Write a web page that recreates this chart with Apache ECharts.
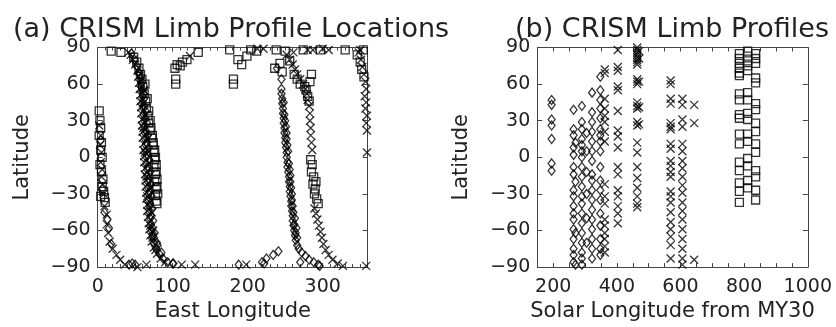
<!DOCTYPE html>
<html><head><meta charset="utf-8">
<script src="https://cdn.jsdelivr.net/npm/echarts@6/dist/echarts.min.js"></script>
<style>html,body{margin:0;padding:0;background:#fff}#c{width:836px;height:327px}</style>
</head><body><div id="c"></div>
<script>
// ---------- DATA ----------
var titleA = '(a) CRISM Limb Profile Locations';
var titleB = '(b) CRISM Limb Profiles';
var xNameA = 'East Longitude';
var xNameB = 'Solar Longitude from MY30';
var yName = 'Latitude';
var xTicksA = [0, 100, 200, 300];
var xTicksB = [200, 400, 600, 800, 1000];
var yTicks = [-90, -60, -30, 0, 30, 60, 90];

// Panel (a): [east longitude, latitude]
var aSquares = [
 [18,87],[31,86],[176,88],[204,88],[238,88],[250,87],[274,88],[297,88],[330,88],[354,88],
 [103,73],[106,76],[110,75],[113,78],[119,80],[134,86],[104,64],[104,60],
 [181,64],[181,60],[187,80],[192,76],[199,83],[212,87],
 [2,38],[3,30],[4,24],[2,18],[5,12],[4,6],[6,0],[3,-6],[5,-12],[7,-18],[6,-24],[8,-28],[9,-33],[10,-37],[4,-32],
 [48,82],[52,78],[55,73],[57,68],[59,64],[60,58],[62,52],[64,46],[65,40],[67,34],[68,28],[70,22],[72,16],[74,10],[75,4],[76,-2],[75,-8],[77,-14],[76,-20],[78,-26],[77,-31],[78,-36],
 [63,60],[66,48],[68,38],[70,30],[71,24],[73,18],[74,12],[76,6],[77,0],[78,-6],[78,-12],[79,-18],[79,-24],[80,-30],[79,-38],
 [236,73],[243,77],[246,70],[256,79],[262,68],[266,64],[270,60],[276,58],[278,55],[283,62],[285,68],[280,50],[282,46],
 [284,-2],[286,-6],[285,-12],[288,-16],[287,-22],[290,-26],[289,-30],[292,-34],[294,-38],[291,-20],
 [346,84],[350,78],[352,72],[355,66]
];
var aCrosses = [
 [213,89],[221,89],[261,86],[280,88],[287,88],[300,89],[308,88],[350,88],[123,83],
 [2,26],[4,18],[3,10],[5,4],[4,-4],[6,-10],[5,-16],[7,-22],[8,-30],[9,-40],[12,-47],[12,-55],[14,-62],[16,-69],[20,-75],[25,-80],[30,-84],[36,-88],[53,-90],[65,-88],
 [41,86],[44,84],[47,80],[50,76],[53,71],[54,66],[55,61],[56,56],[57,51],[57,46],[58,41],[58,36],[59,31],[59,26],[60,21],[60,16],[61,11],[61,6],[62,1],[62,-4],[63,-9],[63,-14],[64,-19],[64,-24],[65,-29],[65,-34],[66,-39],[66,-44],[67,-49],[68,-54],[69,-59],[70,-64],[72,-69],[75,-74],[79,-79],[84,-83],[90,-86],
 [62,55],[64,35],[66,15],[68,-5],[70,-25],[72,-45],[74,-60],
 [58,64],[60,44],[61,24],[63,4],[65,-16],[66,-32],[68,-40],[70,-56],[73,-66],[77,-76],
 [112,-88],[130,-88],[198,-88],
 [252,84],[256,80],[260,76],[263,72],[266,68],[270,64],[274,60],[277,56],[279,52],[280,47],[282,42],[283,36],[283,30],[284,24],[284,18],[285,12],[286,6],
 [289,-42],[291,-46],[293,-51],[295,-56],[297,-61],[299,-66],[301,-71],[304,-76],[308,-80],[313,-84],[320,-87],[327,-89],
 [348,86],[351,80],[353,74],[355,68],[357,62],[358,56],[356,50],[358,45],[357,40],[359,34],[358,28],[359,22],[359,4],[358,-89]
];
var aDiamonds = [
 [45,85],[49,80],[52,75],[55,70],[57,65],[58,60],[59,55],[60,50],[60,45],[61,40],[61,35],[62,30],[62,25],[63,20],[63,15],[64,10],[64,5],[65,0],[65,-5],[66,-10],[66,-15],[67,-20],[67,-25],[68,-30],[68,-35],[69,-40],[69,-45],[70,-50],[71,-55],[72,-60],[73,-65],[75,-70],[78,-75],[82,-79],[87,-83],[93,-86],[100,-87],
 [59,62],[61,52],[62,42],[63,32],[64,22],[65,12],[66,2],[67,-8],[68,-18],[69,-28],[70,-38],[71,-48],[73,-58],[75,-66],[80,-72],
 [56,68],[58,58],[62,48],[64,38],[66,28],[67,18],[68,8],[69,-2],[70,-12],[71,-22],[72,-32],[73,-42],[74,-52],[76,-62],[79,-70],[85,-78],
 [4,14],[6,-26],[9,-45],[13,-51],[15,-58],[18,-71],
 [42,-88],[46,-87],[50,-88],[101,-87],[188,-88],[219,-86],[222,-87],[225,-83],[234,-80],[241,-77],
 [239,73],[245,64],
 [245,56],[245,52],[246,48],[246,44],[247,40],[247,36],[248,32],[248,28],[249,24],[249,20],[250,16],[250,12],[251,8],[252,4],[252,0],[253,-4],[253,-8],[254,-12],[255,-16],[255,-20],[256,-24],[256,-28],[257,-32],[258,-36],[258,-40],[259,-44],[260,-48],[260,-52],[261,-56],[262,-60],[263,-64],[264,-68],[266,-72],[268,-75],[272,-78],[277,-81],[282,-84],[288,-86],[294,-88],
 [248,45],[249,35],[251,25],[252,15],[254,5],[255,-5],[257,-15],[258,-25],[259,-35],[261,-45],[262,-55],[264,-62],[266,-66],
 [250,30],[252,20],[253,10],[256,-10],[257,-20],[259,-30],[260,-40],[263,-50],[265,-58],
 [270,-86],[296,-89]
];

// Panel (b): [solar longitude from MY30, latitude]
var bDiamonds = [
 [195,47],[195,43],[195,31],[195,26],[195,15],[195,-5],[195,-11],
 [264,39],[264,23],[264,18],[264,8],[264,2],[264,-8],[264,-14],[264,-27],[264,-32],[264,-40],[264,-46],[264,-51],[264,-59],[264,-67],[264,-75],[264,-80],[264,-86],
 [270,12],[270,-20],[270,-62],[270,-88],
 [290,42],[290,29],[290,23],[290,15],[290,10],[290,5],[290,0],[290,-8],[290,-16],[290,-24],[290,-32],[290,-38],[290,-46],[290,-54],[290,-62],[290,-70],[290,-78],[290,-83],[290,-88],
 [305,20],[305,5],[305,-12],[305,-30],[305,-50],[305,-70],
 [322,53],[322,37],[322,29],[322,21],[322,13],[322,5],[322,-3],[322,-14],[322,-19],[322,-27],[322,-35],[322,-43],[322,-51],[322,-59],[322,-67],[322,-75],[322,-83],
 [348,66],[348,55],[348,47],[348,40],[348,32],[348,23],[348,18],[348,13],[348,5],[348,-8],[348,-19],[348,-27],[348,-35],[348,-46],[348,-56],[348,-67],[348,-75],[348,-80]
];
var bCrosses = [
 [362,72],[362,69],[362,48],[362,40],[362,34],[362,29],[362,21],[362,13],[362,-22],[362,-32],[362,-38],[362,-51],[362,-56],[362,-62],[362,-67],[362,-73],[362,-78],
 [403,88],[403,74],[403,71],[403,58],[403,55],[403,38],[403,22],[403,17],[403,8],[403,-8],[403,-14],[403,-27],[403,-32],[403,-40],[403,-46],[403,-54],
 [464,90],[464,88],[464,86],[464,84],[464,82],[464,80],[464,78],[464,76],[464,64],[464,62],[464,60],[464,45],[464,42],[464,40],[464,29],[464,26],[464,12],[464,4],[464,-8],[464,-17],[464,-25],[464,-32],[464,-38],[464,-41],
 [470,87],[470,81],[470,62],[470,41],[470,27],
 [569,63],[569,60],[569,48],[569,44],[569,28],[569,25],[569,23],[569,11],[569,7],[569,-3],[569,-7],[569,-12],[569,-16],[569,-28],[569,-32],[569,-37],[569,-45],[569,-53],[569,-59],[569,-65],[569,-72],[569,-83],
 [606,48],[606,43],[606,31],[606,25],[606,11],[606,5],[606,-3],[606,-9],[606,-16],[606,-23],[606,-29],[606,-37],[606,-44],[606,-51],[606,-59],[606,-67],[606,-75],[606,-83],[606,-88],
 [643,43],[643,28],[643,-84]
];
var bSquares = [
 [785,85],[785,81],[785,77],[785,73],[785,69],[785,67],[785,52],[785,47],[785,35],[785,32],[785,19],[785,11],[785,-4],[785,-11],[785,-21],[785,-28],[785,-37],
 [811,87],[811,83],[811,79],[811,75],[811,71],[811,53],[811,47],[811,36],[811,31],[811,19],[811,13],[811,-1],[811,-7],[811,-19],[811,-25],
 [836,85],[836,81],[836,77],[836,65],[836,61],[836,44],[836,39],[836,28],[836,21],[836,11],[836,4],[836,-11],[836,-16],[836,-27],[836,-35]
];

// ---------- CHART ----------
var INK = '#222';
var AX = '#444';
var FONT = 'DejaVu Sans';
var chart = echarts.init(document.getElementById('c'), null, {renderer: 'canvas'});
function minus(v){ return String(v).replace('-', '\u2212'); }
function xAx(grid, min, max, interval, pos, labels, name, minorSplit, labelFn){
  return {
    gridIndex: grid, type: 'value', min: min, max: max, interval: interval, position: pos,
    axisLine: {show: true, onZero: false, lineStyle: {color: AX, width: 1}},
    axisTick: {show: true, inside: true, length: 4, lineStyle: {color: AX}},
    minorTick: {show: minorSplit > 0, splitNumber: minorSplit || 5, length: 3, lineStyle: {color: AX}},
    splitLine: {show: false},
    axisLabel: {show: labels, showMaxLabel: labelFn ? true : false, showMinLabel: true, interval: 0, margin: 10,
      color: INK, fontFamily: FONT, fontSize: 19, formatter: labelFn || function(v){return xTicksA.indexOf(v) >= 0 ? String(v) : '';}},
    name: name, nameLocation: 'middle', nameGap: 33,
    nameTextStyle: {color: INK, fontFamily: FONT, fontSize: 21}
  };
}
function yAx(grid, pos, labels, name){
  return {
    gridIndex: grid, type: 'value', min: -90, max: 90, interval: 30, position: pos,
    axisLine: {show: true, onZero: false, lineStyle: {color: AX, width: 1}},
    axisTick: {show: true, inside: true, length: 5, lineStyle: {color: AX}},
    splitLine: {show: false},
    axisLabel: {show: labels, margin: 7, color: INK, fontFamily: FONT, fontSize: 19,
      formatter: function(v){ return yTicks.indexOf(v) >= 0 ? minus(v) : ''; }},
    name: name, nameLocation: 'middle', nameGap: 65, nameRotate: 90,
    nameTextStyle: {color: INK, fontFamily: FONT, fontSize: 21}
  };
}
var labB = function(v){ return xTicksB.indexOf(v) >= 0 ? String(v) : ''; };
var sty = {color: 'transparent', borderColor: '#000', borderWidth: 1.3};
var crossPath = 'path://M0,0L10,10M10,0L0,10';
function ser(xi, yi, data, sym, size){
  return {type: 'scatter', xAxisIndex: xi, yAxisIndex: yi, data: data, symbol: sym, symbolSize: size,
    itemStyle: sty, silent: true, animation: false, clip: false};
}
chart.setOption({
  animation: false,
  backgroundColor: '#fff',
  title: [
    {text: titleA, left: 8, top: 11, textStyle: {color: INK, fontFamily: FONT, fontSize: 27, fontWeight: 'normal'}},
    {text: titleB, left: 510, top: 11, textStyle: {color: INK, fontFamily: FONT, fontSize: 27, fontWeight: 'normal'}}
  ],
  grid: [
    {left: 97.7, top: 47.5, width: 270, height: 225},
    {left: 537.3, top: 47.5, width: 270.5, height: 225}
  ],
  xAxis: [
    xAx(0, 0, 360, 100, 'bottom', true, xNameA, 10),
    xAx(0, 0, 360, 100, 'top', false, '', 10),
    xAx(1, 150, 1000, 50, 'bottom', true, xNameB, 0, labB),
    xAx(1, 150, 1000, 50, 'top', false, '', 0, labB)
  ],
  yAxis: [
    yAx(0, 'left', true, yName),
    yAx(0, 'right', false, ''),
    yAx(1, 'left', true, yName),
    yAx(1, 'right', false, '')
  ],
  series: [
    ser(0, 0, aSquares, 'rect', 8),
    ser(0, 0, aDiamonds, 'diamond', [7, 9]),
    ser(0, 0, aCrosses, crossPath, 8),
    ser(2, 2, bDiamonds, 'diamond', [7, 9]),
    ser(2, 2, bCrosses, crossPath, 8),
    ser(2, 2, bSquares, 'rect', 8)
  ]
});
</script></body></html>
